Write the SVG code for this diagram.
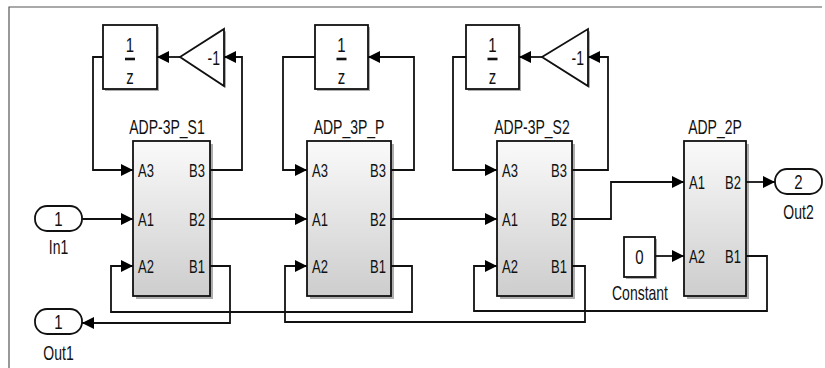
<svg xmlns="http://www.w3.org/2000/svg" width="825" height="368" viewBox="0 0 825 368">
<defs>
<linearGradient id="g" x1="0" y1="0" x2="0" y2="1">
<stop offset="0" stop-color="#fafafa"/>
<stop offset="1" stop-color="#cdcdcd"/>
</linearGradient>
<marker id="ah" markerUnits="userSpaceOnUse" markerWidth="13" markerHeight="13" refX="12" refY="6" orient="auto">
<path d="M0,0 L12,6 L0,12 z" fill="#000"/>
</marker>
<style>
text{font-family:"Liberation Sans",Arial,sans-serif;fill:#111}
.t{font-size:14px;text-anchor:middle}
.n{font-size:15px;text-anchor:middle}
.p{font-size:13px}
.g{font-size:14px;text-anchor:end}
.r{text-anchor:end}
.blk{fill:url(#g);stroke:#111;stroke-width:1.8}
.wb{fill:#fff;stroke:#111;stroke-width:1.8}
.sh{fill:#777;opacity:0.6}
.c path{fill:none;stroke:#111;stroke-width:1.8}
.c .a{marker-end:url(#ah)}
</style>
</defs>
<rect width="825" height="368" fill="#fff"/>
<path d="M9,368 V7 H822" fill="none" stroke="#555" stroke-width="1.2"/>

<g id="In1">
<rect x="35" y="206" width="47" height="25" rx="12" class="wb"/>
<text transform="translate(58.5,226) scale(1,1.4)" class="n">1</text>
<text transform="translate(58.5,254) scale(1,1.4)" class="t">In1</text>
</g>
<g id="Out1">
<rect x="35" y="309" width="47" height="25" rx="12" class="wb"/>
<text transform="translate(58.5,329) scale(1,1.4)" class="n">1</text>
<text transform="translate(58.5,360) scale(1,1.4)" class="t">Out1</text>
</g>
<g id="Out2">
<rect x="775" y="169" width="47" height="25" rx="12" class="wb"/>
<text transform="translate(798.5,189) scale(1,1.4)" class="n">2</text>
<text transform="translate(798.5,219) scale(1,1.4)" class="t">Out2</text>
</g>
<g id="Constant">
<rect x="626" y="239" width="31" height="40" class="sh"/>
<rect x="624" y="237" width="31" height="40" class="wb"/>
<text transform="translate(639.5,263.5) scale(1,1.4)" class="n">0</text>
<text transform="translate(640,300) scale(1,1.4)" class="t">Constant</text>
</g>

<g id="Delay1">
<rect x="105" y="27" width="54" height="64" class="sh"/>
<rect x="103" y="25" width="54" height="64" class="wb"/>
<text transform="translate(130,52) scale(1,1.4)" class="n">1</text>
<path d="M125,59 H135" stroke="#111" stroke-width="2.6"/>
<text transform="translate(130,83.5) scale(1,1.4)" class="n">z</text>
</g>
<g id="Delay2">
<rect x="317" y="27" width="53" height="64" class="sh"/>
<rect x="315" y="25" width="53" height="64" class="wb"/>
<text transform="translate(341.5,52) scale(1,1.4)" class="n">1</text>
<path d="M336.5,59 H346.5" stroke="#111" stroke-width="2.6"/>
<text transform="translate(341.5,83.5) scale(1,1.4)" class="n">z</text>
</g>
<g id="Delay3">
<rect x="468" y="27" width="53" height="64" class="sh"/>
<rect x="466" y="25" width="53" height="64" class="wb"/>
<text transform="translate(492.5,52) scale(1,1.4)" class="n">1</text>
<path d="M487.5,59 H497.5" stroke="#111" stroke-width="2.6"/>
<text transform="translate(492.5,83.5) scale(1,1.4)" class="n">z</text>
</g>
<g id="Gain1">
<path d="M182,59 L226,31 V88 z" class="sh"/>
<path d="M180,57 L224,29 V86 z" class="wb"/>
<text transform="translate(220,64.5) scale(1,1.4)" class="g">-1</text>
</g>
<g id="Gain2">
<path d="M544,59 L590,31 V88 z" class="sh"/>
<path d="M542,57 L588,29 V86 z" class="wb"/>
<text transform="translate(584,64.5) scale(1,1.4)" class="g">-1</text>
</g>

<g id="ADP-3P_S1">
<text transform="translate(167,133.5) scale(1,1.4)" class="t">ADP-3P_S1</text>
<rect x="136" y="144" width="77" height="155" class="sh"/>
<rect x="133" y="141" width="77" height="155" class="blk"/>
<text transform="translate(138,176.5) scale(1,1.4)" class="p">A3</text>
<text transform="translate(138,225.5) scale(1,1.4)" class="p">A1</text>
<text transform="translate(138,272.5) scale(1,1.4)" class="p">A2</text>
<text transform="translate(205,176.5) scale(1,1.4)" class="p r">B3</text>
<text transform="translate(205,225.5) scale(1,1.4)" class="p r">B2</text>
<text transform="translate(205,272.5) scale(1,1.4)" class="p r">B1</text>
</g>
<g id="ADP_3P_P">
<text transform="translate(349,133.5) scale(1,1.4)" class="t">ADP_3P_P</text>
<rect x="310" y="144" width="84" height="155" class="sh"/>
<rect x="307" y="141" width="84" height="155" class="blk"/>
<text transform="translate(312,176.5) scale(1,1.4)" class="p">A3</text>
<text transform="translate(312,225.5) scale(1,1.4)" class="p">A1</text>
<text transform="translate(312,272.5) scale(1,1.4)" class="p">A2</text>
<text transform="translate(386,176.5) scale(1,1.4)" class="p r">B3</text>
<text transform="translate(386,225.5) scale(1,1.4)" class="p r">B2</text>
<text transform="translate(386,272.5) scale(1,1.4)" class="p r">B1</text>
</g>
<g id="ADP-3P_S2">
<text transform="translate(532,133.5) scale(1,1.4)" class="t">ADP-3P_S2</text>
<rect x="500" y="144" width="75" height="155" class="sh"/>
<rect x="497" y="141" width="75" height="155" class="blk"/>
<text transform="translate(502,176.5) scale(1,1.4)" class="p">A3</text>
<text transform="translate(502,225.5) scale(1,1.4)" class="p">A1</text>
<text transform="translate(502,272.5) scale(1,1.4)" class="p">A2</text>
<text transform="translate(567,176.5) scale(1,1.4)" class="p r">B3</text>
<text transform="translate(567,225.5) scale(1,1.4)" class="p r">B2</text>
<text transform="translate(567,272.5) scale(1,1.4)" class="p r">B1</text>
</g>
<g id="ADP_2P">
<text transform="translate(715,133.5) scale(1,1.4)" class="t">ADP_2P</text>
<rect x="687" y="144" width="62" height="155" class="sh"/>
<rect x="684" y="141" width="62" height="155" class="blk"/>
<text transform="translate(689,188.5) scale(1,1.4)" class="p">A1</text>
<text transform="translate(689,262.5) scale(1,1.4)" class="p">A2</text>
<text transform="translate(741,188.5) scale(1,1.4)" class="p r">B2</text>
<text transform="translate(741,262.5) scale(1,1.4)" class="p r">B1</text>
</g>

<g id="connectors" class="c">
<path class="a" d="M82,219 H133"/>
<path class="a" d="M210,219 H307"/>
<path class="a" d="M391,219 H497"/>
<path class="a" d="M572,219 H611 V182 H684"/>
<path class="a" d="M746,182 H775"/>
<path class="a" d="M655,256 H684"/>
<path class="a" d="M746,256 H767 V311 H474 V266 H497"/>
<path class="a" d="M572,266 H585 V322 H285 V266 H307"/>
<path class="a" d="M391,266 H412 V312 H111 V266 H133"/>
<path class="a" d="M210,266 H230 V323 H82"/>
<path class="a" d="M210,170 H242 V57 H224"/>
<path class="a" d="M180,57 H157"/>
<path class="a" d="M103,57 H93 V170 H133"/>
<path class="a" d="M391,170 H414 V57 H368"/>
<path class="a" d="M315,57 H283 V170 H307"/>
<path class="a" d="M572,170 H608 V57 H588"/>
<path class="a" d="M542,57 H519"/>
<path class="a" d="M466,57 H453 V170 H497"/>
</g>
</svg>
